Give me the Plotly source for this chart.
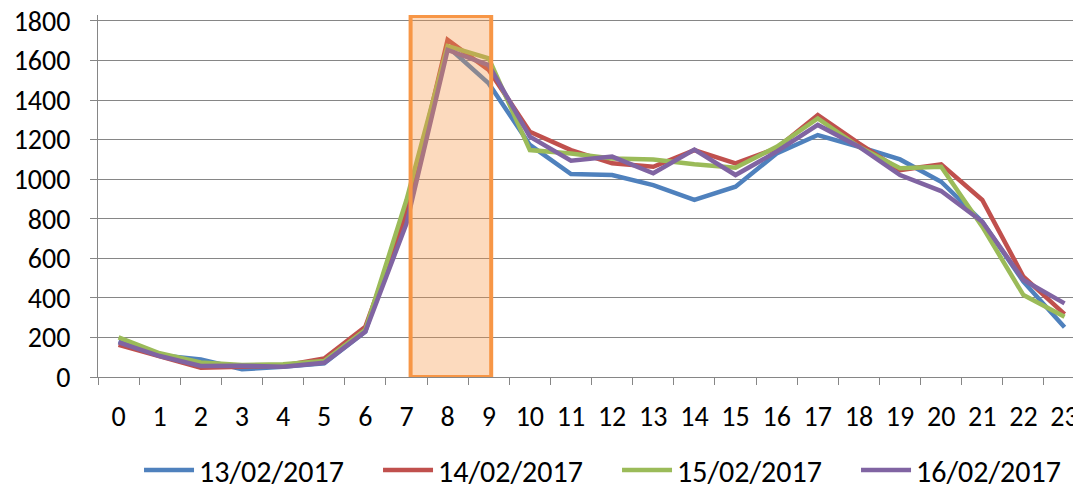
import plotly.graph_objects as go

hours = [str(h) for h in range(24)]
series_names = ["13/02/2017", "14/02/2017", "15/02/2017", "16/02/2017"]
s13 = [180, 110, 89, 39, 52, 69, 229, 860, 1670, 1484, 1173, 1026, 1021, 970, 895, 962, 1130, 1223, 1164, 1100, 987, 785, 482, 251]
s14 = [162, 103, 47, 52, 57, 94, 254, 830, 1704, 1552, 1240, 1147, 1080, 1063, 1147, 1080, 1156, 1324, 1181, 1046, 1075, 895, 507, 318]
s15 = [200, 120, 73, 61, 64, 81, 238, 895, 1673, 1611, 1147, 1130, 1105, 1100, 1075, 1058, 1164, 1307, 1164, 1055, 1063, 760, 414, 305]
s16 = [175, 106, 56, 57, 52, 72, 230, 775, 1653, 1577, 1215, 1093, 1114, 1030, 1150, 1021, 1139, 1274, 1164, 1021, 940, 785, 490, 372]
colors = ["#4F81BD", "#C0504D", "#9BBB59", "#8064A2"]
highlight_x = [7.1, 9.06]
highlight_y = [0, 1825]

FONT = "Carlito, Calibri, Liberation Sans Narrow, Open Sans, sans-serif"

fig = go.Figure()
for name, vals, c in zip(series_names, [s13, s14, s15, s16], colors):
    fig.add_trace(go.Scatter(x=list(range(24)), y=vals, name=name, mode="lines",
                             line=dict(color=c, width=4.5)))

fig.add_shape(type="rect", xref="x", yref="y",
              x0=highlight_x[0], x1=highlight_x[1], y0=highlight_y[0], y1=highlight_y[1],
              fillcolor="rgba(247,150,70,0.35)", line=dict(color="#F79646", width=4),
              layer="above")

# page body has an 8px margin, so the figure is sized to the remaining viewport
fig.update_layout(
    width=1073, height=480,
    margin=dict(l=90, r=0, t=7, b=111, autoexpand=False),
    plot_bgcolor="white", paper_bgcolor="white",
    font=dict(family=FONT, size=28, color="black"),
    showlegend=True,
    legend=dict(orientation="h", x=0.528, xanchor="center", yref="container",
                y=0.0375, yanchor="middle", font=dict(size=30), itemwidth=50,
                entrywidth=174, entrywidthmode="pixels", tracegroupgap=0),
    xaxis=dict(range=[-0.5, 23.4], tickmode="array", tickvals=list(range(24)),
               ticktext=hours, showgrid=False, showline=True, linecolor="#868686",
               linewidth=1, zeroline=False, ticks="", ticklabelstandoff=14,
               automargin=False, ticklabeloverflow="allow"),
    yaxis=dict(range=[0, 1830], dtick=200, tick0=0, showgrid=True, gridcolor="#868686",
               gridwidth=1, showline=True, linecolor="#868686", linewidth=1,
               ticks="outside", ticklen=7, tickcolor="#868686", zeroline=False,
               ticklabelstandoff=14, automargin=False, ticklabeloverflow="allow"),
)

fig.update_xaxes(minor=dict(tickmode="array", tickvals=[b + 0.5 for b in range(-1, 24)],
                            ticks="outside", ticklen=7, tickcolor="#868686", showgrid=False))

fig.write_html("out.html")
